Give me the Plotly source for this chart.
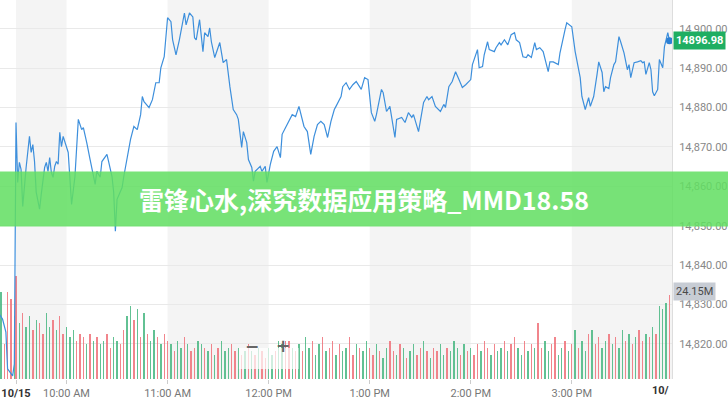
import plotly.graph_objects as go

# ---------------- data ----------------
# price: minute index (0 = 10/15 9:30 AM, negatives = prior session close)
price_minutes = [
    -10, -8, -6, -5, -2, -1,
    0, 1, 2, 3, 4, 5, 6, 8, 9, 10, 11, 12, 14, 15, 17, 18, 19, 20, 21, 22, 23, 24, 25, 26, 27, 28,
    31, 33, 35, 37, 39, 40, 41, 42, 44, 46, 47, 48, 50, 51, 54, 55, 57, 58, 59, 60, 63, 64, 66, 68,
    70, 72, 74, 75, 76, 79, 81, 83, 85, 86, 88,
    90, 92, 93, 95, 97, 100, 101, 103, 105, 106, 107, 109, 111, 112, 114, 115, 116, 118, 121, 123,
    125, 127, 128, 129, 131, 132, 134, 135, 137, 138, 140, 141, 142, 145, 146, 148, 149,
    151, 153, 155, 157, 158, 160, 162, 164, 166, 168, 171, 173, 175, 177, 179, 181, 183, 185,
    187, 189, 190, 193, 194, 196, 198, 200, 202, 205, 207, 209,
    211, 213, 214, 217, 218, 220, 222, 223, 225, 226, 229, 231, 233, 235, 236, 239, 241, 242,
    244, 245, 247, 249, 252, 254, 255, 257, 259, 261, 263, 265, 267,
    270, 271, 272, 274, 275, 277, 278, 280, 281, 284, 285, 287, 288, 290, 292, 294, 296, 297,
    299, 301, 303, 304, 306, 308, 309, 311, 313, 314, 316, 317, 319, 322, 323, 326, 327,
    330, 332, 335, 336, 338, 340, 341, 343, 345, 346, 348, 349, 350, 352, 353, 355, 356, 358,
    359, 361, 363, 364, 365, 367, 369, 371, 372, 373, 374, 376, 377, 378, 379, 381, 382, 384,
    385, 387, 388,
]
price_values = [
    14827.6, 14826.3, 14823.0, 14813.7, 14811.9, 14814.9,
    14876.2, 14861.0, 14866.1, 14864.3, 14854.9, 14861.0, 14864.8, 14872.7, 14868.6, 14870.6, 14866.3, 14858.5, 14854.2, 14858.0, 14864.8, 14866.1, 14863.8, 14867.3, 14863.5, 14862.3, 14865.1, 14866.3, 14865.6, 14873.7, 14870.1, 14872.7,
    14868.6, 14855.4, 14862.5, 14877.0, 14874.4, 14874.9, 14873.2, 14871.1, 14866.8, 14863.0, 14860.5, 14863.8, 14862.3, 14866.3, 14868.1, 14866.3, 14862.5, 14858.5, 14848.6, 14856.7, 14859.7, 14862.5, 14867.3, 14871.9,
    14875.2, 14874.4, 14878.2, 14882.8, 14881.5, 14880.0, 14882.0, 14886.3, 14886.3, 14890.1, 14892.9,
    14902.8, 14901.8, 14897.2, 14893.4, 14897.2, 14904.0, 14901.0, 14904.0, 14903.0, 14897.7, 14897.2, 14902.3, 14894.2, 14899.0, 14898.0, 14900.2, 14896.7, 14892.7, 14896.5, 14891.4,
    14892.2, 14885.3, 14882.8, 14879.5, 14878.2, 14877.0, 14869.9, 14873.9, 14871.1, 14866.8, 14864.8, 14861.3, 14863.8, 14865.1, 14863.8, 14865.1, 14861.0,
    14865.6, 14868.9, 14870.1, 14867.3, 14873.2, 14874.9, 14876.5, 14878.2, 14877.7, 14880.3, 14875.2, 14873.9, 14868.1, 14872.7, 14875.7, 14876.5, 14875.7, 14872.4,
    14876.5, 14879.5, 14880.3, 14882.8, 14885.3, 14886.3, 14884.6, 14885.8, 14886.6, 14884.6, 14887.6, 14887.1,
    14878.7, 14876.5, 14878.2, 14884.6, 14883.8, 14879.0, 14880.3, 14877.7, 14872.4, 14877.0, 14877.5, 14876.2, 14878.7, 14877.5, 14878.2, 14873.9, 14878.7, 14881.3,
    14882.8, 14882.0, 14882.8, 14880.3, 14879.0, 14880.8, 14880.0, 14885.3, 14886.6, 14889.1, 14887.1, 14885.1, 14885.8,
    14887.1, 14890.9, 14892.2, 14894.7, 14890.1, 14890.4, 14893.4, 14896.7, 14894.7, 14894.2, 14895.2, 14896.5, 14895.9, 14897.2, 14895.9, 14898.5, 14899.0, 14897.2,
    14896.5, 14892.9, 14892.7, 14893.4, 14892.7, 14896.5, 14894.7, 14895.2, 14894.2, 14892.7, 14889.1, 14891.6, 14891.6, 14890.9, 14893.9, 14899.8, 14901.5,
    14900.5, 14894.2, 14887.6, 14882.8, 14879.5, 14882.5, 14880.3, 14882.8, 14888.4, 14891.6, 14888.9, 14884.0, 14885.3, 14884.8, 14887.6, 14890.9, 14891.6, 14898.0,
    14896.7, 14893.9, 14889.6, 14890.9, 14887.6, 14891.4, 14891.6, 14891.9, 14891.4, 14891.6, 14888.4, 14891.4, 14889.6, 14884.0, 14883.0, 14884.6, 14892.2, 14890.1,
    14895.4, 14899.0, 14896.98,
]
assert len(price_minutes) == len(price_values)

# volume (millions), 2-minute bars
prev_volume_minutes = [-9, -7, -5, -3, -1]
prev_volume = [25, 10, 25, 23, 18]
prev_volume_dir = "grrrg"
volume_minutes = list(range(0, 389, 2))
volume = (
    [29.6, 16, 19, 15, 18, 14, 17, 16, 13, 19, 15, 17, 14, 18, 13, 15]
    + [12, 14, 11, 13, 12, 10, 13, 11, 12, 10, 11, 13, 9, 12, 11, 10]
    + [14, 18, 21, 17, 20, 12, 19]
    + [13, 11, 14, 12, 10, 13, 11]
    + [10, 8, 11, 9, 12, 10, 8, 9, 11, 10, 9, 8, 10, 7, 9, 11, 8, 9, 10, 8]
    + [9, 7, 8, 10, 8, 7, 9, 8, 6, 9, 7, 8, 11, 10, 11, 11, 9, 8]
    + [10, 8, 12, 9, 11, 7, 10, 12, 8, 9, 11, 7, 10, 8, 9, 12, 7, 10, 9, 8, 11]
    + [9, 7, 10, 8, 6, 9, 11, 8, 7, 10, 9, 6, 8, 10, 7, 9, 11, 8, 6, 9, 8, 10, 7, 9, 8, 11, 9, 7, 10, 8]
    + [9, 7, 10, 8, 11, 9, 7, 10, 8, 9, 11, 8, 10, 12, 9, 7, 11, 8, 10, 9, 16, 9, 11, 8, 10, 12, 7, 9, 11, 8]
    + [10, 14, 9, 11, 8, 13, 14, 10, 12, 9, 11, 13, 10, 12, 9, 14, 11, 13, 10, 12, 14, 11, 13, 12, 15, 13]
    + [21, 20, 22, 24.15]
)
# bar direction: g = up (green), r = down (red)
volume_dir = (
    "rgrggrgrrg" "grgrrgggrr" "rgrgrggrrg" "grrggrgrgr" "ggrgrrgrgg"
    "rgrrggrgrg" "rgggrrgrgr" "grgrrggrgg" "rrgrgrggrg" "grgrrgrggr"
    "rgrggrrgrg" "grrgrgrggr" "rgrgrrggrg" "ggrgrgrrgr" "rgrggrgrrg"
    "grgrgrrggr" "rggrgrgrgg" "rgrrggrgrg" "grgrgrrgrg" "rgggr"
)
assert len(volume) == len(volume_minutes) == len(volume_dir)

tick_minutes = [0, 30, 90, 150, 210, 270, 330]
tick_labels = ["<span style='color:#333'><b>10/15</b></span>", "10:00 AM", "11:00 AM",
               "12:00 PM", "1:00 PM", "2:00 PM", "3:00 PM"]
price_ticks = [14820, 14830, 14840, 14850, 14860, 14870, 14880, 14890, 14900]
last_price = 14896.98
last_volume_label = "24.15M"
title_text = "雷锋心水,深究数据应用策略_MMD18.58"

# ---------------- figure ----------------
all_vm = prev_volume_minutes + volume_minutes
all_v = prev_volume + volume
RED = "rgba(238,112,120,0.85)"
GREEN = "rgba(70,182,128,0.85)"
colors = [GREEN if c == "g" else RED for c in prev_volume_dir + volume_dir]

fig = go.Figure()
fig.add_trace(go.Bar(x=all_vm, y=all_v, marker=dict(color=colors, line=dict(width=0)),
                     width=0.8, yaxis="y", showlegend=False, hoverinfo="skip"))
fig.add_trace(go.Scatter(x=price_minutes, y=price_values, mode="lines",
                         line=dict(color="#3d8fdc", width=1.2), yaxis="y2", showlegend=False))
fig.add_trace(go.Scatter(x=[price_minutes[-1]], y=[price_values[-1]], mode="markers",
                         marker=dict(color="#2b7fd4", size=7), yaxis="y2", showlegend=False))

shapes = []
for a, b in [(0, 30), (90, 150), (210, 270), (330, 390)]:
    shapes.append(dict(type="rect", xref="x", yref="paper", x0=a, x1=b, y0=0, y1=1,
                       fillcolor="#f4f4f4", line=dict(width=0), layer="below"))
# banner
shapes.append(dict(type="rect", xref="paper", yref="paper", x0=-0.01, x1=728 / 675 + 0.01,
                   y0=1 - 227 / 380, y1=1 - 172 / 380,
                   fillcolor="rgba(98,222,98,0.86)", line=dict(width=0), layer="above"))
# zoom control box
shapes.append(dict(type="rect", xref="paper", yref="paper", x0=240 / 675, x1=300 / 675,
                   y0=1 - 370 / 380, y1=1 - 349 / 380,
                   fillcolor="rgba(255,255,255,0.7)", line=dict(width=0), layer="above"))

annotations = [
    dict(x=1, xref="paper", y=last_price, yref="y2", xanchor="left", yanchor="middle",
         text="<b>%.2f</b>" % last_price, showarrow=False, bgcolor="#1fae62",
         font=dict(color="white", size=11, family="Roboto"), borderpad=2, xshift=1),
    dict(x=1, xref="paper", y=volume[-1], yref="y", xanchor="left", yanchor="middle",
         text=last_volume_label, showarrow=False, bgcolor="#c7ccd4",
         font=dict(color="#4a4a4a", size=11, family="Roboto"), borderpad=2, xshift=1, yshift=4),
    dict(x=1, xref="paper", y=0, yref="paper", xanchor="right", yanchor="top",
         text="<b>10/</b>", showarrow=False, font=dict(color="#333", size=11, family="Roboto"),
         yshift=-3, xshift=-1),
    dict(x=366 / 675, xref="paper", y=1 - 200 / 380, yref="paper", xanchor="center",
         yanchor="middle", text="<b>%s</b>" % title_text, showarrow=False,
         font=dict(color="white", size=25, family="Noto Sans CJK SC")),
    dict(x=253 / 675, xref="paper", y=1 - 359 / 380, yref="paper", text="<b>−</b>",
         showarrow=False, font=dict(color="#666", size=17, family="DejaVu Sans")),
    dict(x=284 / 675, xref="paper", y=1 - 359 / 380, yref="paper", text="<b>+</b>",
         showarrow=False, font=dict(color="#666", size=17, family="DejaVu Sans")),
]

fig.update_layout(
    width=728, height=400,
    margin=dict(l=0, r=53, t=0, b=20),
    paper_bgcolor="white", plot_bgcolor="white",
    bargap=0,
    xaxis=dict(range=[-9.5, 389.5], tickvals=tick_minutes, ticktext=tick_labels,
               tickfont=dict(size=11, color="#777", family="Roboto"), ticks="outside",
               ticklen=4, tickcolor="#cccccc", showgrid=False, zeroline=False, showline=False),
    yaxis=dict(range=[0, 109], autorange=False, showticklabels=False, showgrid=False,
               zeroline=False, showline=False, ticks=""),
    yaxis2=dict(overlaying="y", side="right", range=[14811.1, 14907.3], autorange=False,
                tickvals=price_ticks,
                tickformat=",.2f", tickfont=dict(size=11, color="#888", family="Roboto"),
                showgrid=True, gridcolor="#e9e9e9", zeroline=False, showline=True,
                linecolor="#dddddd", ticks="", ticklabelstandoff=4),
    shapes=shapes,
    annotations=annotations,
    font=dict(family="Roboto"),
)

fig.write_html(
    "out.html",
    config={"displayModeBar": False},
    post_script="document.body.style.margin='0';document.body.style.overflow='hidden';",
)
